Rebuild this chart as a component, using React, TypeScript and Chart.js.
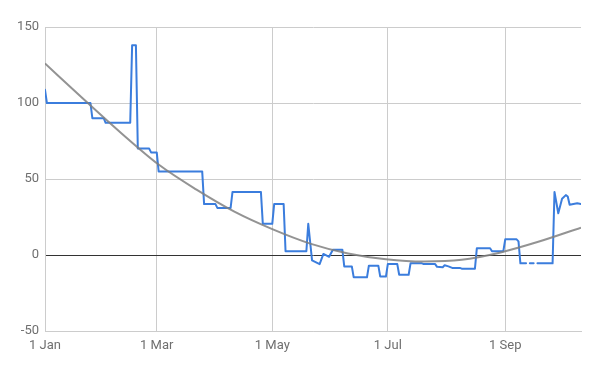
import { useEffect, useRef } from 'react';
import { Chart, registerables } from 'chart.js';

Chart.register(...registerables);

// x axis: day of year (0 = 1 Jan)
const tickDays = [0, 59, 120, 181, 243];
const tickLabels = ['1 Jan', '1 Mar', '1 May', '1 Jul', '1 Sep'];
const yTicks = [-50, 0, 50, 100, 150];

// blue series: vertices (day, value); null = gap
const seriesDays = [
  0, 1, 24, 25, 31, 32, 45, 46, 48, 49,
  55, 56, 59, 60, 83, 84, 90, 91, 98, 99,
  114, 115, 120, 121, 126, 127, 138, 139, 141, 145,
  147, 150, 152, 157, 158, 162, 163, 170, 171, 176,
  177, 180, 181, 186, 187, 192, 193, 199, 200, 206,
  207, 210, 211, 213, 215, 219, 220, 227, 228, 235,
  236, 242, 243, 249, 250, 251, 254, 255, 256, 258,
  259, 260, 268, 269, 271, 273, 275, 276, 277, 279,
  281, 283,
];
const seriesValues: (number | null)[] = [
  108.7, 100, 100, 90, 90, 87, 87, 138, 138, 70,
  70, 67.5, 67.5, 55, 55, 33.5, 33.5, 31, 31, 41.5,
  41.5, 20.5, 20.5, 33.5, 33.5, 2.5, 2.5, 20.5, -3.5, -6,
  0.7, -1.2, 3.5, 3.5, -7.5, -7.5, -14.7, -14.7, -7, -7,
  -14.2, -14.2, -6, -6, -13, -13, -5.5, -5.5, -6, -6,
  -7.8, -8, -6.8, -7.5, -8.5, -8.5, -9, -9, 4.4, 4.4,
  2.5, 2.5, 10.3, 10.3, 9, -5.5, -5.5, null, -5.5, -5.5,
  null, -5.5, -5.5, 41.5, 27.5, 37, 39.4, 38.5, 33, 33.5,
  34, 33.5,
];

// grey trendline
const trendDays = [0, 20, 40, 60, 80, 100, 120, 140, 160, 180, 200, 220, 240, 260, 283];
const trendValues = [126, 103, 80.5, 59.5, 43, 28.5, 17, 7.5, 1, -2.8, -4.3, -3.2, 1.5, 8.5, 18];

export default function App() {
  const ref = useRef<HTMLCanvasElement | null>(null);

  useEffect(() => {
    document.body.style.margin = '0';
    const canvas = ref.current;
    if (!canvas) return;
    const font = { family: 'Roboto', size: 13 };
    const chart = new Chart(canvas, {
      type: 'line',
      data: {
        datasets: [
          {
            label: 'Trend',
            data: trendDays.map((d, i) => ({ x: d, y: trendValues[i] })),
            borderColor: 'rgba(128,128,128,0.85)',
            borderWidth: 2,
            pointRadius: 0,
            cubicInterpolationMode: 'monotone',
            order: 0,
          },
          {
            label: 'Series',
            data: seriesDays.map((d, i) => ({ x: d, y: seriesValues[i] })),
            borderColor: '#3b7ddd',
            borderWidth: 2,
            borderJoinStyle: 'round',
            borderCapStyle: 'round',
            pointRadius: 0,
            tension: 0,
            spanGaps: false,
            order: 1,
          },
        ],
      },
      options: {
        animation: false,
        responsive: false,
        maintainAspectRatio: false,
        layout: { padding: { top: 27, right: 19, left: 0, bottom: 0 } },
        plugins: { legend: { display: false }, tooltip: { enabled: false } },
        scales: {
          x: {
            type: 'linear',
            min: 0,
            max: 283,
            afterBuildTicks: (scale: any) => {
              scale.ticks = tickDays.map((v) => ({ value: v }));
            },
            afterFit: (scale: any) => {
              scale.height = 40;
            },
            ticks: {
              font,
              color: '#6f6f6f',
              padding: 7,
              maxRotation: 0,
              autoSkip: false,
              callback: (v: any) => {
                const i = tickDays.indexOf(Number(v));
                return i >= 0 ? tickLabels[i] : '';
              },
            },
            grid: { color: '#cccccc', drawTicks: false, lineWidth: 1 },
            border: { color: '#cccccc' },
          },
          y: {
            type: 'linear',
            min: -50,
            max: 150,
            afterBuildTicks: (scale: any) => {
              scale.ticks = yTicks.map((v) => ({ value: v }));
            },
            afterFit: (scale: any) => {
              scale.width = 45;
            },
            ticks: { font, color: '#6f6f6f', padding: 6 },
            grid: {
              color: (ctx: any) => (ctx.tick && ctx.tick.value === 0 ? '#333333' : '#cccccc'),
              drawTicks: false,
              lineWidth: 1,
            },
            border: { color: '#cccccc' },
          },
        },
      },
    });
    return () => chart.destroy();
  }, []);

  return (
    <div style={{ position: 'absolute', left: 0, top: 0, width: 600, height: 371 }}>
      <canvas ref={ref} width={600} height={371} style={{ width: 600, height: 371 }} />
    </div>
  );
}
